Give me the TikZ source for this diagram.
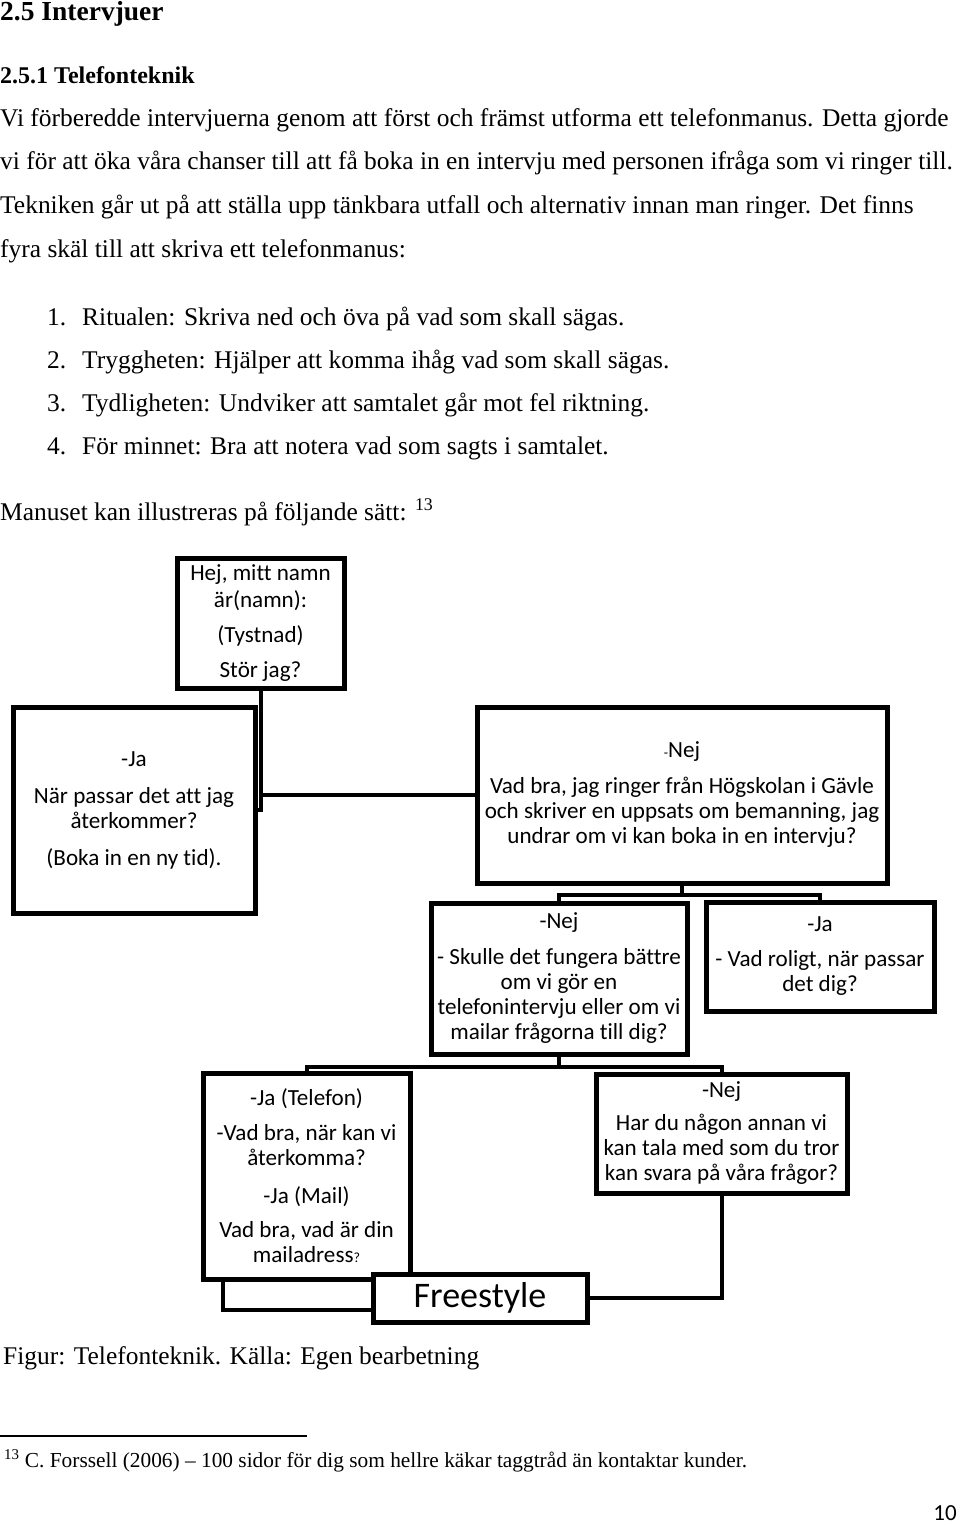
\documentclass[tikz,border=0pt]{standalone}
\usepackage{fontspec}
\setmainfont{Liberation Serif}
\newfontfamily\boxfont[Ligatures={NoCommon}]{Carlito}

\tikzset{
	txt/.style={anchor=base west,inner sep=0pt,font=\fontsize{25.45}{30}\selectfont},
	box/.style={draw,line width=5pt,fill=white,align=center,inner xsep=2pt,inner ysep=0pt,
		font=\boxfont\fontsize{23.1}{25}\selectfont},
	link/.style={line width=4pt}
}
\newcommand{\smallbit}[1]{{\fontsize{14}{14}\selectfont #1}}

\begin{document}
\begin{tikzpicture}[x=1pt,y=-1pt]
			\useasboundingbox (0,0) rectangle (960,1525);
			\fill[white] (0,0) rectangle (960,1525);
			\node[txt,font=\bfseries\fontsize{27.5}{30}\selectfont] (h1) at (0,21) {2.5 Intervjuer};
			\node[txt,font=\bfseries\fontsize{24}{30}\selectfont] (h2) at (0,84) {2.5.1 Telefonteknik};
			\node[txt] (p1) at (0,127) {Vi förberedde intervjuerna genom att först och främst utforma ett telefonmanus. Detta gjorde};
			\node[txt] (p2) at (0,170) {vi för att öka våra chanser till att få boka in en intervju med personen ifråga som vi ringer till.};
			\node[txt] (p3) at (0,214) {Tekniken går ut på att ställa upp tänkbara utfall och alternativ innan man ringer. Det finns};
			\node[txt] (p4) at (0,257) {fyra skäl till att skriva ett telefonmanus:};
			\foreach \txt [count=\k] in {Ritualen: Skriva ned och öva på vad som skall sägas.,
				Tryggheten: Hjälper att komma ihåg vad som skall sägas.,
				Tydligheten: Undviker att samtalet går mot fel riktning.,
				För minnet: Bra att notera vad som sagts i samtalet.} {
				\node[txt] (num\k) at (47,{325+(\k-1)*43}) {\k.};
				\node[txt] (item\k) at (82,{325+(\k-1)*43}) {\txt};
			}
			\node[txt] (man) at (0,520) {Manuset kan illustreras på följande sätt: \textsuperscript{13}};

			\node[box,minimum width=167pt,minimum height=130pt] (hej) at (260.5,623)
				{Hej, mitt namn\\[2pt] är(namn):\\[10pt] (Tystnad)\\[10pt] Stör jag?};
			\node[box,minimum width=242pt,minimum height=206pt] (ja) at (134,810)
				{-Ja\\[12pt] När passar det att jag\\ återkommer?\\[12pt] (Boka in en ny tid).};
			\node[box,minimum width=410pt,minimum height=176pt] (nej) at (682,795)
				{\smallbit{-}Nej\\[11pt] Vad bra, jag ringer från Högskolan i Gävle\\ och skriver en uppsats om bemanning, jag\\ undrar om vi kan boka in en intervju?};
			\node[box,minimum width=256pt,minimum height=151pt] (skulle) at (559,978.5)
				{-Nej\\[11pt] - Skulle det fungera bättre\\ om vi gör en\\ telefonintervju eller om vi\\ mailar frågorna till dig?};
			\node[box,minimum width=228pt,minimum height=109pt] (roligt) at (820,956.5)
				{-Ja\\[10pt] - Vad roligt, när passar\\ det dig?};
			\node[box,minimum width=207pt,minimum height=206pt] (telefon) at (306.5,1176)
				{-Ja (Telefon)\\[10pt] -Vad bra, när kan vi\\ återkomma?\\[13pt] -Ja (Mail)\\[9pt] Vad bra, vad är din\\ mailadress\smallbit{?}};
			\node[box,minimum width=251pt,minimum height=119pt] (annan) at (721.5,1133.5)
				{-Nej\\[8pt] Har du någon annan vi\\ kan tala med som du tror\\ kan svara på våra frågor?};
			\node[box,minimum width=214pt,minimum height=48pt,font=\boxfont\fontsize{36}{40}\selectfont] (free) at (480,1298)
				{Freestyle};

			\draw[link] (hej.south) |- (ja.east);
			\draw[link] (hej.south) |- (nej.west);
			\draw[link] (nej.south) -- ++(0,9) -| (skulle.north);
			\draw[link] (nej.south) -- ++(0,9) -| (roligt.north);
			\draw[link] (skulle.south) -- ++(0,10) -| (telefon.north);
			\draw[link] (skulle.south) -- ++(0,10) -| (annan.north);
			\draw[link] ([xshift=22pt]telefon.south west) |- ([yshift=-12pt]free.west);
			\draw[link] (annan.south) |- (free.east);

			\node[txt] (fig) at (3,1364) {Figur: Telefonteknik. Källa: Egen bearbetning};
			\draw[line width=1.5pt] (0,1436) -- (307,1436);
			\node[txt,font=\fontsize{21.35}{24}\selectfont] (fn) at (4,1467)
				{\textsuperscript{13} C. Forssell (2006) – 100 sidor för dig som hellre käkar taggtråd än kontaktar kunder.};
			\node[anchor=base east,inner sep=0pt,font=\boxfont\fontsize{23}{25}\selectfont] (pg) at (957,1520) {10};
		\end{tikzpicture}
\end{document}
